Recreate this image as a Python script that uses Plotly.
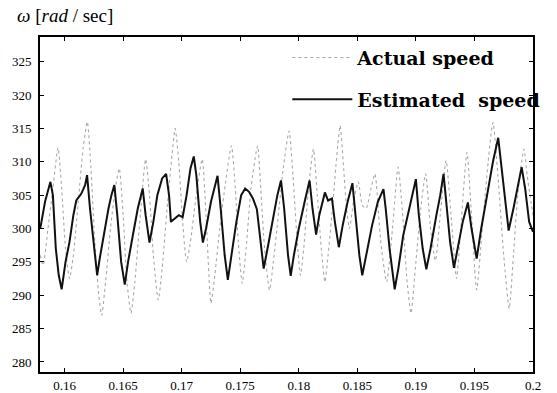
import plotly.graph_objects as go

# ---- data ----
t_est = [0.15792, 0.15833, 0.15879, 0.15900, 0.15925, 0.15950, 0.15975, 0.16008, 0.16042, 0.16075,
         0.16100, 0.16142, 0.16175, 0.16192, 0.16217, 0.16250, 0.16278, 0.16300, 0.16342, 0.16375,
         0.16400, 0.16425, 0.16450, 0.16483, 0.16514, 0.16542, 0.16583, 0.16625, 0.16667, 0.16692,
         0.16725, 0.16758, 0.16792, 0.16833, 0.16867, 0.16892, 0.16908, 0.16942, 0.16975, 0.17008,
         0.17042, 0.17075, 0.17103, 0.17125, 0.17158, 0.17181, 0.17208, 0.17250, 0.17306, 0.17333,
         0.17367, 0.17394, 0.17425, 0.17467, 0.17508, 0.17542, 0.17575, 0.17608, 0.17642, 0.17675,
         0.17700, 0.17733, 0.17775, 0.17817, 0.17848, 0.17875, 0.17908, 0.17931, 0.17958, 0.18000,
         0.18050, 0.18092, 0.18117, 0.18148, 0.18175, 0.18223, 0.18250, 0.18283, 0.18308, 0.18342,
         0.18375, 0.18417, 0.18458, 0.18483, 0.18517, 0.18542, 0.18575, 0.18625, 0.18675, 0.18723,
         0.18742, 0.18775, 0.18819, 0.18850, 0.18892, 0.18942, 0.19000, 0.19025, 0.19058, 0.19089,
         0.19125, 0.19175, 0.19208, 0.19236, 0.19258, 0.19292, 0.19325, 0.19358, 0.19400, 0.19444,
         0.19475, 0.19519, 0.19558, 0.19608, 0.19658, 0.19703, 0.19733, 0.19767, 0.19792, 0.19833,
         0.19867, 0.19903, 0.19933, 0.19967, 0.20000]
w_est = [300.0, 304.0, 307.0, 305.0, 297.0, 293.0, 290.9, 295.0, 298.0, 302.0,
         304.2, 305.2, 306.5, 308.0, 303.0, 297.0, 293.0, 295.5, 300.0, 303.0,
         305.0, 306.5, 302.0, 295.0, 291.6, 295.0, 299.0, 303.0, 306.0, 302.0,
         297.9, 301.0, 305.0, 307.5, 308.2, 305.0, 301.0, 301.5, 302.0, 301.7,
         305.0, 309.0, 310.8, 308.0, 301.0, 297.9, 300.0, 304.0, 307.9, 303.0,
         296.0, 292.3, 296.0, 301.0, 305.0, 306.0, 305.5, 304.5, 302.9, 298.0,
         294.0, 297.0, 301.0, 305.0, 307.2, 303.0, 296.0, 292.9, 296.0, 300.0,
         304.0, 307.2, 303.0, 299.1, 302.0, 305.4, 304.2, 304.5, 301.0, 297.2,
         300.5, 304.0, 306.8, 302.0, 296.0, 293.0, 296.0, 300.4, 304.0, 305.9,
         303.0, 297.0, 290.9, 294.0, 299.0, 303.0, 307.4, 302.0, 297.0, 293.9,
         297.0, 302.0, 305.0, 308.2, 304.0, 298.0, 294.1, 297.0, 301.0, 303.9,
         300.0, 295.5, 300.0, 305.0, 310.0, 313.6, 309.0, 303.0, 299.7, 303.0,
         306.0, 309.2, 306.0, 301.0, 299.5]

t_act = [0.15792, 0.15817, 0.15858, 0.15900, 0.15944, 0.15975, 0.16008, 0.16042, 0.16075, 0.16117,
         0.16158, 0.16194, 0.16225, 0.16258, 0.16292, 0.16317, 0.16350, 0.16392, 0.16433, 0.16467,
         0.16500, 0.16533, 0.16567, 0.16600, 0.16642, 0.16692, 0.16725, 0.16758, 0.16800, 0.16833,
         0.16875, 0.16917, 0.16944, 0.16975, 0.17008, 0.17042, 0.17075, 0.17117, 0.17175, 0.17208,
         0.17250, 0.17283, 0.17325, 0.17375, 0.17425, 0.17458, 0.17483, 0.17517, 0.17550, 0.17592,
         0.17648, 0.17675, 0.17708, 0.17750, 0.17783, 0.17825, 0.17867, 0.17917, 0.17950, 0.17983,
         0.18014, 0.18042, 0.18083, 0.18125, 0.18158, 0.18192, 0.18223, 0.18250, 0.18292, 0.18325,
         0.18353, 0.18383, 0.18408, 0.18433, 0.18467, 0.18508, 0.18542, 0.18575, 0.18617, 0.18650,
         0.18700, 0.18750, 0.18800, 0.18848, 0.18883, 0.18925, 0.18958, 0.19000, 0.19042, 0.19083,
         0.19125, 0.19167, 0.19208, 0.19258, 0.19300, 0.19347, 0.19383, 0.19436, 0.19475, 0.19519,
         0.19567, 0.19617, 0.19658, 0.19700, 0.19750, 0.19797, 0.19833, 0.19875, 0.19923, 0.19950,
         0.20000]
w_act = [296.0, 294.5, 300.0, 306.0, 312.1, 306.0, 297.0, 292.5, 296.0, 304.0,
         312.0, 316.0, 309.0, 298.0, 290.0, 287.0, 292.0, 300.0, 306.0, 309.0,
         302.0, 292.0, 287.3, 292.0, 301.0, 310.4, 305.0, 296.0, 289.3, 294.0,
         303.0, 311.0, 315.0, 310.0, 301.0, 295.0, 298.0, 304.0, 310.4, 302.0,
         288.8, 293.0, 300.0, 307.0, 312.4, 306.0, 298.0, 291.8, 297.0, 306.0,
         312.4, 306.0, 297.0, 290.8, 295.0, 302.0, 309.0, 314.6, 308.0, 299.0,
         293.0, 297.0, 306.0, 311.9, 305.0, 297.0, 292.0, 296.0, 304.0, 311.0,
         315.4, 309.0, 303.0, 300.0, 304.0, 307.0, 303.5, 303.0, 306.0, 308.2,
         298.0, 292.0, 300.0, 309.2, 303.0, 292.0, 287.3, 295.0, 303.0, 308.2,
         300.0, 295.2, 302.0, 310.2, 302.0, 292.5, 300.0, 311.4, 302.0, 290.8,
         300.0, 310.0, 315.9, 308.0, 296.0, 288.0, 296.0, 306.0, 311.9, 308.0,
         302.0]

x_tickvals = [0.16, 0.165, 0.17, 0.175, 0.18, 0.185, 0.19, 0.195, 0.2]
x_ticktext = ["0.16", "0.165", "0.17", "0.175", "0.18", "0.185", "0.19", "0.195", "0.2"]
y_tickvals = [280, 285, 290, 295, 300, 305, 310, 315, 320, 325]
y_ticktext = [str(v) for v in y_tickvals]

SERIF = "Times New Roman, Liberation Serif, serif"

fig = go.Figure()
fig.add_trace(go.Scatter(
    x=t_act, y=w_act, mode="lines", name="<b>Actual speed</b>",
    legendgroup="a",
    line=dict(color="#a8a8a8", width=1.1, dash="dot", shape="spline", smoothing=0.6),
))
fig.add_trace(go.Scatter(
    x=t_est, y=w_est, mode="lines", name="<b>Estimated\u00a0\u00a0speed</b>",
    legendgroup="b",
    line=dict(color="#111111", width=2),
))

axis_common = dict(
    showgrid=False, zeroline=False, showline=True, linecolor="black", linewidth=2,
    mirror="ticks", ticks="inside", ticklen=4, tickcolor="black", tickwidth=1,
    tickfont=dict(family=SERIF, size=13, color="black"),
    automargin=False,
)

fig.update_layout(
    width=557, height=393,
    margin=dict(l=40, r=12, t=37, b=21),
    paper_bgcolor="white", plot_bgcolor="white",
    xaxis=dict(range=[0.1579, 0.2], tickvals=x_tickvals, ticktext=x_ticktext,
               ticklabelstandoff=0, **axis_common),
    yaxis=dict(range=[278.5, 328.7], tickvals=y_tickvals, ticktext=y_ticktext,
               ticklabelstandoff=4, **axis_common),
    showlegend=True,
    legend=dict(
        x=1.025, xanchor="right", y=0.995, yanchor="top",
        bgcolor="rgba(0,0,0,0)", borderwidth=0,
        font=dict(family="DejaVu Serif", size=19, color="black"),
        traceorder="grouped", tracegroupgap=14, itemwidth=60,
    ),
    annotations=[dict(
        text="<i>ω</i> [<i>rad</i> / sec]", xref="paper", yref="paper",
        x=-0.05, y=1.065, xanchor="left", yanchor="middle", showarrow=False,
        font=dict(family=SERIF, size=19, color="black"),
    )],
)

fig.write_html("out.html")
